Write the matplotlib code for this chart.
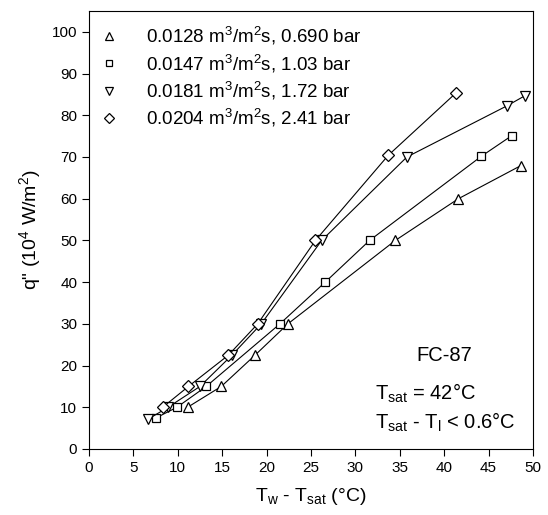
import matplotlib
matplotlib.use('Agg')
import matplotlib.pyplot as plt

plt.rcParams['font.family'] = ['Liberation Sans', 'DejaVu Sans']
plt.rcParams['mathtext.fontset'] = 'custom'
plt.rcParams['mathtext.rm'] = 'Liberation Sans'
plt.rcParams['mathtext.it'] = 'Liberation Sans'
plt.rcParams['mathtext.bf'] = 'Liberation Sans'

# data: wall superheat (C) vs heat flux (10^4 W/m^2)
x1 = [11.1, 14.9, 18.7, 22.4, 34.5, 41.6, 48.6]
y1 = [10, 15, 22.5, 30, 50, 60, 67.9]
x2 = [7.5, 9.9, 13.2, 21.5, 26.6, 31.6, 44.2, 47.6]
y2 = [7.4, 10, 15, 30, 40, 50, 70.2, 75.1]
x3 = [6.7, 8.9, 12.5, 16.1, 19.4, 26.2, 35.8, 47.1, 49.1]
y3 = [7.2, 10, 15, 22.5, 30, 50, 70, 82.3, 84.7]
x4 = [8.3, 11.2, 15.7, 19.0, 25.5, 33.7, 41.3]
y4 = [10, 15, 22.5, 30, 50, 70.4, 85.3]

labels = ['0.0128 m$^3$/m$^2$s, 0.690 bar',
          '0.0147 m$^3$/m$^2$s, 1.03 bar',
          '0.0181 m$^3$/m$^2$s, 1.72 bar',
          '0.0204 m$^3$/m$^2$s, 2.41 bar']
markers = ['^', 's', 'v', 'D']
sizes = [7, 6, 7, 6.2]
leg_sizes = [6, 5, 6, 5.2]

fig = plt.figure(figsize=(5.48, 5.15), dpi=100)
ax = fig.add_axes([89/548, 1-449/515, 444/548, 438/515])

handles = []
for xs, ys, m, ms, lms, lab in zip([x1, x2, x3, x4], [y1, y2, y3, y4], markers, sizes, leg_sizes, labels):
    ax.plot(xs, ys, '-', color='black', lw=0.8, marker=m, ms=ms,
            mfc='white', mec='black', mew=0.9)
    # legend shows the symbol only
    h, = ax.plot([], [], ls='none', marker=m, ms=lms, mfc='white',
                 mec='black', mew=0.9, label=lab)
    handles.append(h)

ax.set_xlim(0, 50)
ax.set_ylim(0, 105)
ax.set_xticks(range(0, 51, 5))
ax.set_yticks(range(0, 101, 10))
ax.tick_params(direction='out', length=5, width=0.8, labelsize=11)

ax.set_xlabel(r'T$_\mathrm{w}$ - T$_\mathrm{sat}$ (°C)', fontsize=14, labelpad=8)
ax.set_ylabel(r'q" (10$^4$ W/m$^2$)', fontsize=14, labelpad=6)

ax.legend(handles=handles, loc='upper left', frameon=False, fontsize=13.5,
          handlelength=1.0, handletextpad=1.5, borderaxespad=0.0,
          labelspacing=0.28, bbox_to_anchor=(0.007, 0.985))

ax.text(40, 22.3, 'FC-87', fontsize=14.5, ha='center', va='center')
ax.text(32.2, 13.4, r'T$_\mathrm{sat}$ = 42°C', fontsize=14.5, ha='left', va='center')
ax.text(32.2, 6.5, r'T$_\mathrm{sat}$ - T$_\mathrm{l}$ < 0.6°C', fontsize=14.5, ha='left', va='center')

fig.savefig('out.png', dpi=100)
